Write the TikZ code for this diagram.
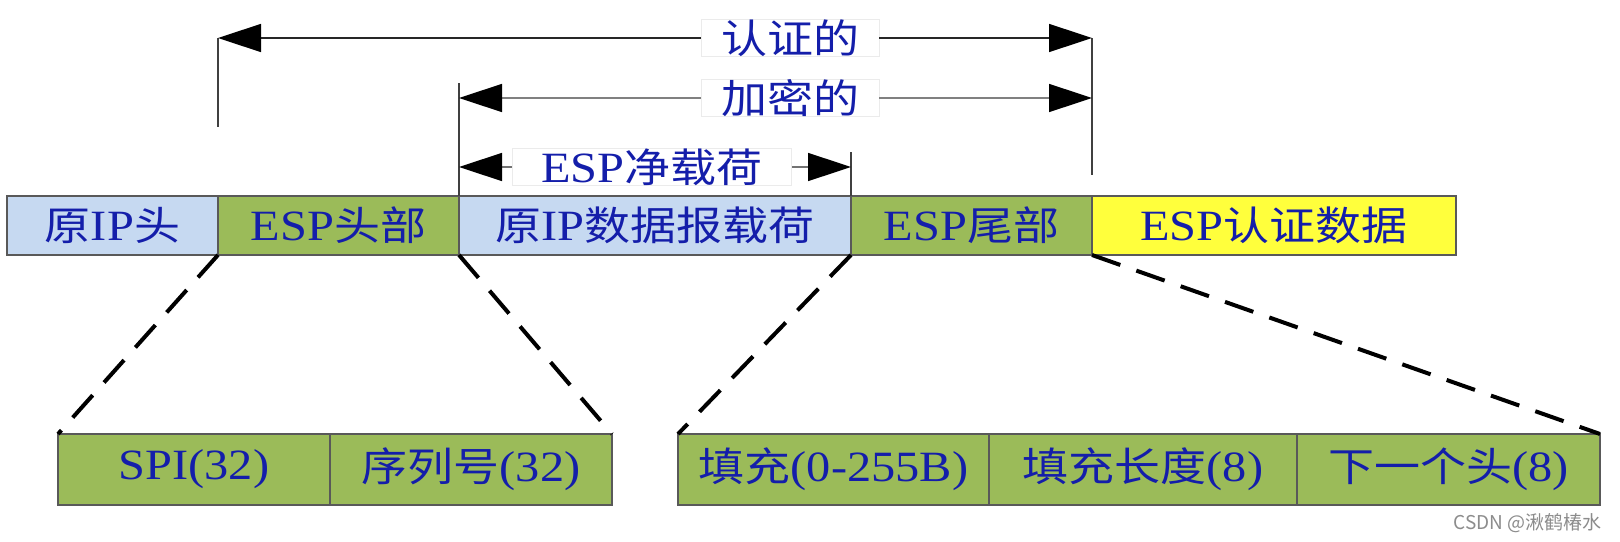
\documentclass[tikz,border=0pt]{standalone}
\usepackage{fontspec}
\setmainfont{Liberation Serif}[FakeStretch=1.12,Scale=1.08]
\newfontfamily\cjk{Noto Sans CJK SC}[FakeStretch=1.15]
\newfontfamily\wmfont{Noto Sans CJK SC}
\usetikzlibrary{arrows.meta}
\newcommand\zh[1]{{\cjk #1}}
\newcommand\fs{\fontsize{40}{46}\selectfont}
\definecolor{lblue}{RGB}{198,217,241}
\definecolor{pgreen}{RGB}{155,187,89}
\definecolor{pyellow}{RGB}{255,255,60}
\definecolor{txtblue}{RGB}{20,30,170}
\begin{document}
\begin{tikzpicture}[x=1pt,y=-1pt,
  box/.style={draw=black!65, line width=1.3pt, inner sep=0pt, outer sep=0pt,
    anchor=north west, minimum height=59pt, font=\fs, text=txtblue},
  bbox/.style={box, minimum height=71pt, fill=pgreen},
  lab/.style={fill=white, draw=black!8, line width=0.8pt, inner xsep=20pt, inner ysep=0pt,
    minimum height=31pt, font=\fs, text=txtblue},
  arr/.style={-{Triangle[length=43pt,width=28pt,color=black]}, line width=1.5pt},
  vl/.style={line width=1.5pt},
  dsh/.style={line width=4pt, dash pattern=on 30pt off 17pt, black}
]
\useasboundingbox[fill=white] (0,0) rectangle (1620,541);

% top row
\node[box, fill=lblue, minimum width=211pt] (iph) at (7,196) {\zh{原}IP\zh{头}};
\node[box, fill=pgreen, minimum width=241pt] (esph) at (218,196) {ESP\zh{头部}};
\node[box, fill=lblue, minimum width=392pt] (pay) at (459,196) {\zh{原}IP\zh{数据报载荷}};
\node[box, fill=pgreen, minimum width=241pt] (espt) at (851,196) {ESP\zh{尾部}};
\node[box, fill=pyellow, minimum width=364pt] (auth) at (1092,196) {ESP\zh{认证数据}};

% bottom rows
\node[bbox, minimum width=272pt] (spi) at (58,434) {SPI(32)};
\node[bbox, minimum width=282pt] (seq) at (330,434) {\zh{序列号}(32)};
\node[bbox, minimum width=311pt] (pad) at (678,434) {\zh{填充}(0-255B)};
\node[bbox, minimum width=308pt] (padlen) at (989,434) {\zh{填充长度}(8)};
\node[bbox, minimum width=303pt] (nxt) at (1297,434) {\zh{下一个头}(8)};

% dimension arrows
\coordinate (a1l) at (218,38);
\coordinate (a1r) at (1092,38);
\coordinate (a2l) at (459,98);
\coordinate (a2r) at (1092,98);
\coordinate (a3l) at (459,167);
\coordinate (a3r) at (851,167);

\node[lab] (l1) at (790,38) {\zh{认证的}};
\node[lab] (l2) at (790,98) {\zh{加密的}};
\node[lab, inner xsep=29pt] (l3) at (652,167) {ESP\zh{净载荷}};

\draw[vl, black!75] (a1l) -- ++(0,89);
\draw[vl, black!75] (a1r) -- ++(0,137);
\draw[vl, black!75] (pay.north west) -- ++(0,-113);
\draw[vl, black!75] (pay.north east) -- ++(0,-44);

\draw[arr, black!85] (l1) -- (a1l);
\draw[arr, black!85] (l1) -- (a1r);
\draw[arr, black!50] (l2) -- (a2l);
\draw[arr, black!50] (l2) -- (a2r);
\draw[arr, black!55] (l3) -- (a3l);
\draw[arr, black!55] (l3) -- (a3r);

% dashed expansion lines
\draw[dsh] (esph.south west) -- (spi.north west);
\draw[dsh] (esph.south east) -- (seq.north east);
\draw[dsh] (espt.south west) -- (pad.north west);
\draw[dsh] (espt.south east) -- (nxt.north east);

% watermark
\node[font=\wmfont\fontsize{19}{22}\selectfont, text=black!45, anchor=east, inner sep=0pt] (wm) at (1602,523) {CSDN @湫鹤椿水};
\end{tikzpicture}
\end{document}
